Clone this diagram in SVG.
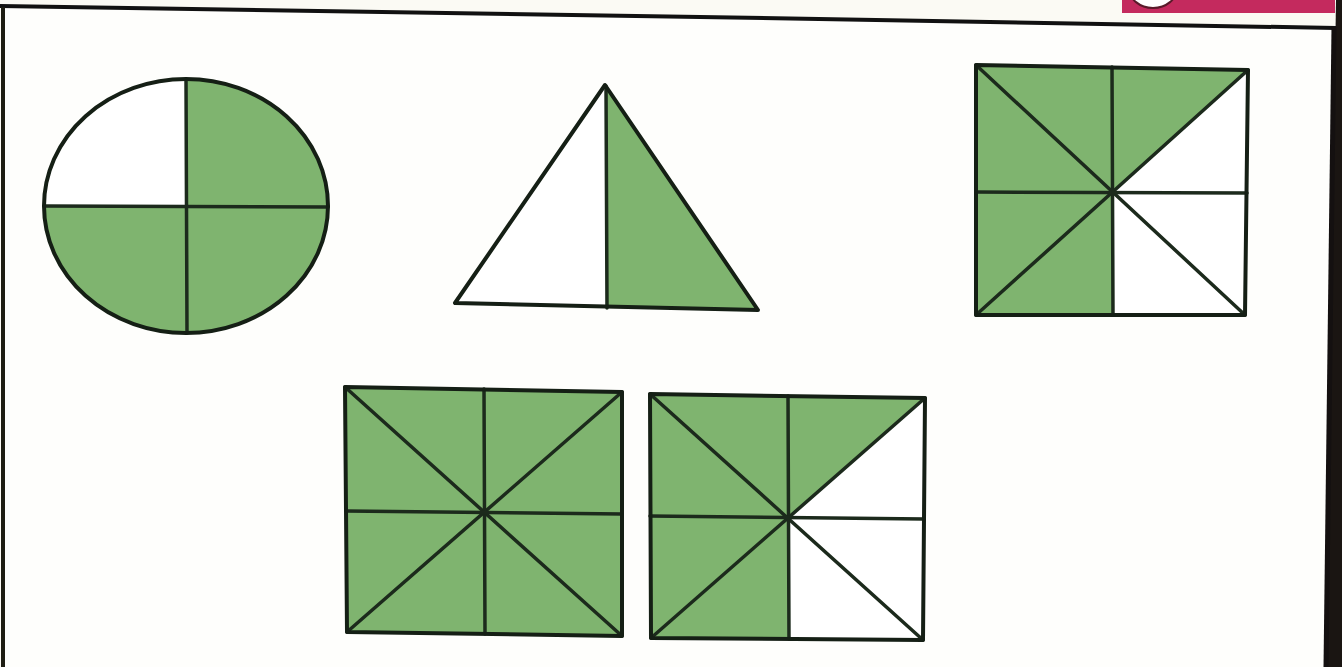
<svg xmlns="http://www.w3.org/2000/svg" width="1342" height="667" viewBox="0 0 1342 667">
  <defs>
    <style>
      .g { fill: #7fb46f; }
      .w { fill: #ffffff; }
      .ln { stroke: #1c2a1c; stroke-width: 3.5; fill: none; stroke-linecap: round; stroke-linejoin: round; }
      .ol { stroke: #151f15; stroke-width: 4; fill: none; stroke-linejoin: round; }
    </style>
  </defs>
  <rect x="0" y="0" width="1342" height="667" fill="#fbfaf4"/>
  <g id="page-frame">
    <polygon points="1336,0 1342,0 1342,667 1326,667" fill="#1a1512"/>
    <rect x="1122" y="0" width="213" height="13" fill="#c42a5e"/>
    <ellipse cx="1153" cy="-12" rx="24" ry="20" fill="#ffffff" stroke="#5a1a2a" stroke-width="2"/>
    <polygon points="4,8 1334,27 1327,667 4,667" fill="#fefefc"/>
    <path d="M0,6 L700,17 L1336,28" stroke="#111" stroke-width="4" fill="none"/>
    <path d="M3,7 L3,667" stroke="#1d1d12" stroke-width="4" fill="none"/>
    <path d="M1334,27 L1326,667" stroke="#141010" stroke-width="5" fill="none"/>
  </g>
  <g id="circle-shape">
    <ellipse cx="186" cy="206" rx="142" ry="127" class="g"/>
    <path d="M186,79 L186,206 L44,206 A142,127 0 0 1 186,79 Z" class="w"/>
    <line x1="186" y1="79" x2="187" y2="333" class="ln"/>
    <line x1="44" y1="206" x2="328" y2="207" class="ln"/>
    <ellipse cx="186" cy="206" rx="142" ry="127" class="ol"/>
  </g>
  <g id="triangle-shape">
    <polygon points="605,85 606,308 758,310" class="g"/>
    <polygon points="605,85 455,303 606,308" class="w"/>
    <line x1="606" y1="86" x2="607" y2="308" class="ln"/>
    <polygon points="605,85 455,303 758,310" class="ol"/>
  </g>
  <g id="square-top-right">
    <polygon points="1113,193 976,65 1112,67" class="g"/>
    <polygon points="1113,193 1112,67 1248,70" class="g"/>
    <polygon points="1113,193 1248,70 1247,193" class="w"/>
    <polygon points="1113,193 1247,193 1245,315" class="w"/>
    <polygon points="1113,193 1245,315 1113,315" class="w"/>
    <polygon points="1113,193 1113,315 976,315" class="g"/>
    <polygon points="1113,193 976,315 976,192" class="g"/>
    <polygon points="1113,193 976,192 976,65" class="g"/>
    <line x1="976" y1="65" x2="1245" y2="315" class="ln"/>
    <line x1="976" y1="315" x2="1248" y2="70" class="ln"/>
    <line x1="1112" y1="67" x2="1113" y2="315" class="ln"/>
    <line x1="976" y1="192" x2="1247" y2="193" class="ln"/>
    <polygon points="976,65 1248,70 1245,315 976,315" class="ol"/>
  </g>
  <g id="square-bottom-left">
    <polygon points="345,387 622,392 622,636 347,632" class="g"/>
    <line x1="345" y1="387" x2="622" y2="636" class="ln"/>
    <line x1="347" y1="632" x2="622" y2="392" class="ln"/>
    <line x1="484" y1="389" x2="485" y2="634" class="ln"/>
    <line x1="346" y1="511" x2="622" y2="514" class="ln"/>
    <polygon points="345,387 622,392 622,636 347,632" class="ol"/>
  </g>
  <g id="square-bottom-right">
    <polygon points="788,518 650,394 788,396" class="g"/>
    <polygon points="788,518 788,396 925,398" class="g"/>
    <polygon points="788,518 925,398 924,519" class="w"/>
    <polygon points="788,518 924,519 923,640" class="w"/>
    <polygon points="788,518 923,640 789,639" class="w"/>
    <polygon points="788,518 789,639 651,638" class="g"/>
    <polygon points="788,518 651,638 650,516" class="g"/>
    <polygon points="788,518 650,516 650,394" class="g"/>
    <line x1="650" y1="394" x2="923" y2="640" class="ln"/>
    <line x1="651" y1="638" x2="925" y2="398" class="ln"/>
    <line x1="788" y1="396" x2="789" y2="639" class="ln"/>
    <line x1="650" y1="516" x2="924" y2="519" class="ln"/>
    <polygon points="650,394 925,398 923,640 651,638" class="ol"/>
  </g>
</svg>
